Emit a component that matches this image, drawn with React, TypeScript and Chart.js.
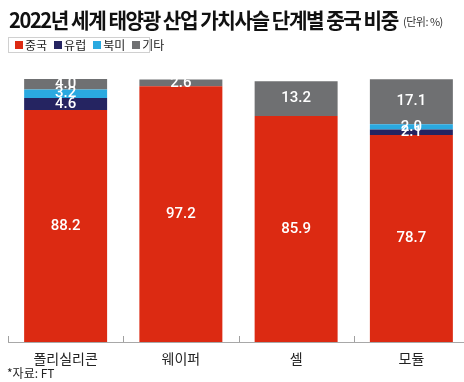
import React, { useEffect, useRef } from "react";
import { Chart, registerables } from "chart.js";

Chart.register(...registerables);

const categories = ["폴리실리콘", "웨이퍼", "셀", "모듈"];
const seriesNames = ["중국", "유럽", "북미", "기타"];
const china = [88.2, 97.2, 85.9, 78.7];
const europe = [4.6, 0, 0, 2.1];
const northAmerica = [3.2, 0, 0, 2.0];
const others = [4.0, 2.6, 13.2, 17.1];
const colors = ["#dc2a12", "#252461", "#2aa9e0", "#6f7072"];
const title = "2022년 세계 태양광 산업 가치사슬 단계별 중국 비중";
const unit = "(단위: %)";
const source = "*자료: FT";

const KR = '"Noto Sans CJK KR", "Noto Sans", sans-serif';

const valueLabels = {
  id: "valueLabels",
  afterDatasetsDraw(chart: any) {
    const ctx = chart.ctx;
    ctx.save();
    ctx.font = '500 15px Roboto, "Liberation Sans", sans-serif';
    ctx.fillStyle = "#ffffff";
    ctx.textAlign = "center";
    ctx.textBaseline = "middle";
    chart.data.datasets.forEach((ds: any, di: number) => {
      const meta = chart.getDatasetMeta(di);
      meta.data.forEach((el: any, i: number) => {
        const v = ds.data[i];
        if (!v) return;
        const y = (el.y + el.base) / 2;
        ctx.fillText(v.toFixed(1), el.x, y);
      });
    });
    ctx.restore();
  },
};

const innerTicks = {
  id: "innerTicks",
  afterDraw(chart: any) {
    const sx = chart.scales.x;
    const ctx = chart.ctx;
    const n = chart.data.labels.length;
    ctx.save();
    ctx.strokeStyle = "#a0a0a0";
    ctx.lineWidth = 1;
    for (let i = 0; i < n; i++) {
      const x = Math.round(sx.left + (i * (sx.right - sx.left)) / n) + 0.5;
      ctx.beginPath();
      ctx.moveTo(x, sx.top - 6);
      ctx.lineTo(x, sx.top);
      ctx.stroke();
    }
    ctx.restore();
  },
};

export default function App() {
  const ref = useRef<HTMLCanvasElement | null>(null);

  useEffect(() => {
    if (!ref.current) return;
    const series = [china, europe, northAmerica, others];
    const chart = new Chart(ref.current, {
      type: "bar",
      data: {
        labels: categories,
        datasets: series.map((d, i) => ({
          label: seriesNames[i],
          data: d,
          backgroundColor: colors[i],
          borderWidth: 0,
          categoryPercentage: 1,
          barPercentage: 0.72,
        })),
      },
      options: {
        animation: false,
        responsive: true,
        maintainAspectRatio: false,
        layout: { padding: { left: 8, right: 1, top: 79, bottom: 0 } },
        plugins: {
          legend: { display: false },
          title: { display: false },
          tooltip: { enabled: false },
        },
        scales: {
          x: {
            stacked: true,
            grid: { display: false, drawTicks: false },
            border: { display: true, color: "#a8a8a8", width: 1 },
            ticks: {
              padding: 8,
              color: "#222",
              font: { family: KR, size: 14 },
            },
            afterFit(scale: any) {
              scale.height = 40;
            },
          },
          y: {
            stacked: true,
            display: false,
            min: 0,
            max: 100,
          },
        },
      },
      plugins: [valueLabels, innerTicks],
    });
    return () => chart.destroy();
  }, []);

  return (
    <div
      style={{
        position: "absolute",
        left: 0,
        top: 0,
        width: 464,
        height: 382,
        overflow: "hidden",
        background: "#fff",
        fontFamily: KR,
      }}
    >
      <div style={{ position: "absolute", left: 0, top: 0, width: 470, height: 382 }}>
        <canvas ref={ref} />
      </div>
      <div
        style={{
          position: "absolute",
          left: 9,
          top: 4,
          whiteSpace: "nowrap",
          fontSize: 21,
          fontWeight: 700,
          letterSpacing: "-1.5px",
          color: "#111",
          transform: "scaleX(0.96)",
          transformOrigin: "left top",
        }}
      >
        {title}
      </div>
      <div
        style={{
          position: "absolute",
          left: 403,
          top: 13,
          whiteSpace: "nowrap",
          fontSize: 11,
          color: "#333",
          letterSpacing: "-0.5px",
        }}
      >
        {unit}
      </div>
      <div
        style={{
          position: "absolute",
          left: 8,
          top: 37,
          width: 142,
          height: 16,
          boxSizing: "border-box",
          border: "1px solid #d0d0d0",
          display: "flex",
          alignItems: "center",
          paddingLeft: 6,
          fontSize: 12,
          color: "#222",
          whiteSpace: "nowrap",
        }}
      >
        {seriesNames.map((n, i) => (
          <span key={n} style={{ display: "flex", alignItems: "center", marginRight: 7 }}>
            <span
              style={{
                display: "inline-block",
                width: 8,
                height: 8,
                background: colors[i],
                marginRight: 2,
              }}
            />
            <span style={{ lineHeight: "14px" }}>{n}</span>
          </span>
        ))}
      </div>
      <div
        style={{
          position: "absolute",
          left: 7,
          top: 366,
          fontSize: 12,
          color: "#222",
          whiteSpace: "nowrap",
          lineHeight: "14px",
        }}
      >
        {source}
      </div>
    </div>
  );
}
